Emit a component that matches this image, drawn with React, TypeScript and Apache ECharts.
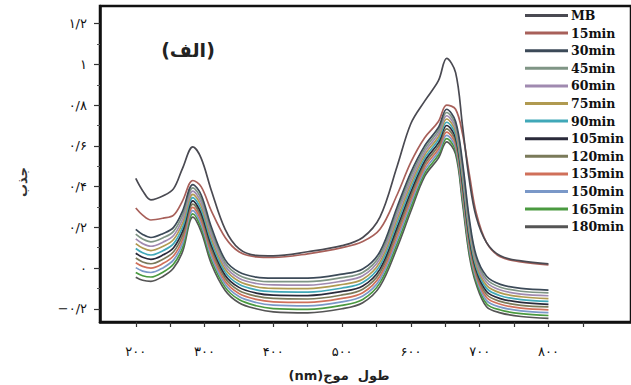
import React, { useEffect, useRef } from "react";
import * as echarts from "echarts";

const wavelengths = [200, 210, 222, 240, 255, 268, 283, 295, 310, 330, 350, 375, 400, 450, 500, 530, 555, 580, 600, 620, 640, 652, 665, 675, 685, 695, 710, 730, 760, 800];

const seriesNames = ["MB", "15min", "30min", "45min", "60min", "75min", "90min", "105min", "120min", "135min", "150min", "165min", "180min"];
const seriesColors = ["#4a4a52", "#a8605a", "#3c4a58", "#7f9585", "#a08ab0", "#b09a50", "#40a8b8", "#2a2a3a", "#7a7a5a", "#d0705a", "#7a98c8", "#4a9a40", "#555555"];

const mb = [0.44, 0.38, 0.335, 0.355, 0.39, 0.49, 0.595, 0.54, 0.38, 0.19, 0.095, 0.062, 0.06, 0.08, 0.11, 0.15, 0.25, 0.5, 0.71, 0.82, 0.92, 1.03, 0.96, 0.7, 0.43, 0.25, 0.125, 0.06, 0.035, 0.02];
const m15 = [0.295, 0.26, 0.236, 0.245, 0.26, 0.33, 0.43, 0.4, 0.28, 0.15, 0.08, 0.055, 0.052, 0.07, 0.1, 0.13, 0.19, 0.36, 0.52, 0.64, 0.72, 0.8, 0.78, 0.66, 0.46, 0.27, 0.125, 0.055, 0.03, 0.015];
const m30 = [0.19, 0.165, 0.15, 0.17, 0.2, 0.28, 0.41, 0.36, 0.2, 0.04, -0.02, -0.045, -0.05, -0.05, -0.03, -0.005, 0.08, 0.3, 0.47, 0.6, 0.69, 0.78, 0.72, 0.52, 0.24, 0.06, -0.04, -0.08, -0.1, -0.108];
const m45 = [0.167, 0.143, 0.129, 0.149, 0.18, 0.26, 0.394, 0.342, 0.182, 0.025, -0.035, -0.061, -0.067, -0.067, -0.047, -0.022, 0.063, 0.28, 0.451, 0.585, 0.675, 0.764, 0.704, 0.5, 0.222, 0.046, -0.055, -0.094, -0.114, -0.122];
const m60 = [0.143, 0.12, 0.107, 0.128, 0.16, 0.24, 0.378, 0.324, 0.164, 0.01, -0.05, -0.076, -0.083, -0.084, -0.064, -0.038, 0.046, 0.26, 0.432, 0.57, 0.66, 0.748, 0.688, 0.48, 0.204, 0.032, -0.07, -0.108, -0.128, -0.136];
const m75 = [0.12, 0.098, 0.086, 0.107, 0.14, 0.22, 0.362, 0.306, 0.146, -0.005, -0.065, -0.092, -0.1, -0.101, -0.081, -0.055, 0.029, 0.24, 0.413, 0.555, 0.645, 0.732, 0.672, 0.46, 0.186, 0.018, -0.085, -0.122, -0.141, -0.15];
const m90 = [0.096, 0.075, 0.064, 0.086, 0.12, 0.2, 0.346, 0.288, 0.128, -0.02, -0.08, -0.107, -0.116, -0.118, -0.098, -0.071, 0.012, 0.22, 0.394, 0.54, 0.63, 0.716, 0.656, 0.44, 0.168, 0.004, -0.1, -0.136, -0.155, -0.164];
const m105 = [0.073, 0.053, 0.043, 0.065, 0.1, 0.18, 0.33, 0.27, 0.11, -0.035, -0.095, -0.123, -0.133, -0.135, -0.115, -0.088, -0.005, 0.2, 0.375, 0.525, 0.615, 0.7, 0.64, 0.42, 0.15, -0.01, -0.115, -0.15, -0.169, -0.178];
const m120 = [0.049, 0.03, 0.021, 0.044, 0.08, 0.16, 0.314, 0.252, 0.092, -0.05, -0.11, -0.138, -0.149, -0.152, -0.132, -0.104, -0.022, 0.18, 0.356, 0.51, 0.6, 0.684, 0.624, 0.4, 0.132, -0.024, -0.13, -0.164, -0.183, -0.191];
const m135 = [0.026, 0.008, 0.0, 0.023, 0.06, 0.14, 0.298, 0.234, 0.074, -0.065, -0.125, -0.154, -0.166, -0.169, -0.149, -0.121, -0.039, 0.16, 0.337, 0.495, 0.585, 0.668, 0.608, 0.38, 0.114, -0.038, -0.145, -0.178, -0.197, -0.205];
const m150 = [0.002, -0.015, -0.022, 0.002, 0.04, 0.12, 0.282, 0.216, 0.056, -0.08, -0.14, -0.169, -0.182, -0.186, -0.166, -0.137, -0.056, 0.14, 0.318, 0.48, 0.57, 0.652, 0.592, 0.36, 0.096, -0.052, -0.16, -0.192, -0.21, -0.219];
const m165 = [-0.022, -0.038, -0.044, -0.019, 0.02, 0.1, 0.266, 0.198, 0.038, -0.095, -0.155, -0.185, -0.199, -0.203, -0.183, -0.154, -0.073, 0.12, 0.299, 0.465, 0.555, 0.636, 0.576, 0.34, 0.078, -0.066, -0.175, -0.206, -0.224, -0.233];
const m180 = [-0.045, -0.06, -0.065, -0.04, 0.0, 0.08, 0.25, 0.18, 0.02, -0.11, -0.17, -0.2, -0.215, -0.22, -0.2, -0.17, -0.09, 0.1, 0.28, 0.45, 0.54, 0.62, 0.56, 0.32, 0.06, -0.08, -0.19, -0.22, -0.238, -0.247];

const allSeries = [mb, m15, m30, m45, m60, m75, m90, m105, m120, m135, m150, m165, m180];

const yTickValues = [-0.2, 0, 0.2, 0.4, 0.6, 0.8, 1, 1.2];
const yTickLabels = ["−۰/۲", "۰", "۰/۲", "۰/۴", "۰/۶", "۰/۸", "۱", "۱/۲"];
const yMinorTicks = [-0.1, 0.1, 0.3, 0.5, 0.7, 0.9, 1.1];
const xTickValues = [200, 250, 300, 350, 400, 450, 500, 550, 600, 650, 700, 750, 800, 850];
const xLabelValues = [200, 300, 400, 500, 600, 700, 800];
const xTickLabels = ["۲۰۰", "۳۰۰", "۴۰۰", "۵۰۰", "۶۰۰", "۷۰۰", "۸۰۰"];

const titleText = "(الف)";
const yTitle = "جذب";
const xTitle = "(nm)طول  موج";

function lookup(values: number[], labels: string[], v: number) {
  for (let i = 0; i < values.length; i++) {
    if (Math.abs(values[i] - v) < 1e-6) return labels[i];
  }
  return "";
}

export default function App() {
  const ref = useRef<HTMLDivElement>(null);
  useEffect(() => {
    document.body.style.margin = "0";
    if (!ref.current) return;
    const chart = echarts.init(ref.current, null, { renderer: "svg" });
    const faFont = "DejaVu Sans";
    chart.setOption({
      animation: false,
      backgroundColor: "#ffffff",
      grid: {
        left: 100,
        right: -3,
        top: 6,
        bottom: 63,
        show: true,
        borderColor: "#111111",
        borderWidth: 2.5,
        containLabel: false,
      },
      legend: {
        orient: "vertical",
        left: 520,
        top: 4,
        icon: "rect",
        itemWidth: 43,
        itemHeight: 3,
        itemGap: 4.6,
        data: seriesNames,
        textStyle: {
          fontFamily: "DejaVu Serif",
          fontWeight: "bold",
          fontSize: 12.5,
          lineHeight: 12,
          color: "#111",
          padding: [0, 0, 0, -2],
        },
      },
      xAxis: {
        type: "value",
        min: 148,
        max: 920,
        axisLine: { show: true, onZero: false, lineStyle: { color: "#111", width: 2.5 } },
        axisTick: {
          show: true,
          customValues: xTickValues,
          length: 5,
          lineStyle: { color: "#333", width: 1.2 },
        },
        axisLabel: {
          customValues: xLabelValues,
          margin: 23,
          fontFamily: faFont,
          fontSize: 13,
          color: "#111",
          formatter: (v: number) => lookup(xLabelValues, xTickLabels, v),
        },
        splitLine: { show: false },
      },
      yAxis: [
        {
          type: "value",
          min: -0.265,
          max: 1.287,
          axisLine: { show: true, onZero: false, lineStyle: { color: "#111", width: 2.5 } },
          axisTick: {
            show: true,
            customValues: yTickValues,
            length: 6,
            lineStyle: { color: "#333", width: 1.2 },
          },
          axisLabel: {
            customValues: yTickValues,
            margin: 13,
            fontFamily: faFont,
            fontSize: 13,
            color: "#111",
            formatter: (v: number) => lookup(yTickValues, yTickLabels, v),
          },
          splitLine: { show: false },
        },
        {
          type: "value",
          min: -0.265,
          max: 1.287,
          position: "left",
          offset: 0,
          axisLine: { show: false, onZero: false },
          axisTick: {
            show: true,
            customValues: yMinorTicks,
            length: 3,
            lineStyle: { color: "#555", width: 1 },
          },
          axisLabel: { show: false },
          splitLine: { show: false },
        },
      ],
      graphic: [
        {
          type: "text",
          x: 188,
          y: 50,
          style: {
            text: titleText,
            fontFamily: faFont,
            fontWeight: "bold",
            fontSize: 19,
            fill: "#222",
            align: "center",
            verticalAlign: "middle",
          },
        },
        {
          type: "text",
          x: 22,
          y: 182,
          rotation: Math.PI / 2,
          style: {
            text: yTitle,
            fontFamily: faFont,
            fontWeight: "bold",
            fontSize: 13,
            fill: "#333",
            align: "center",
            verticalAlign: "middle",
          },
        },
        {
          type: "text",
          x: 339,
          y: 375,
          style: {
            text: xTitle,
            fontFamily: faFont,
            fontWeight: "bold",
            fontSize: 13,
            fill: "#222",
            align: "center",
            verticalAlign: "middle",
          },
        },
      ],
      series: allSeries.map((vals, i) => ({
        name: seriesNames[i],
        type: "line",
        smooth: 0.35,
        symbol: "none",
        yAxisIndex: 0,
        lineStyle: { color: seriesColors[i], width: 1.7 },
        itemStyle: { color: seriesColors[i] },
        data: vals.map((v, j) => [wavelengths[j], v]),
        z: 20 - i,
      })),
    });
    return () => chart.dispose();
  }, []);
  return <div ref={ref} style={{ width: 631, height: 385 }} />;
}
